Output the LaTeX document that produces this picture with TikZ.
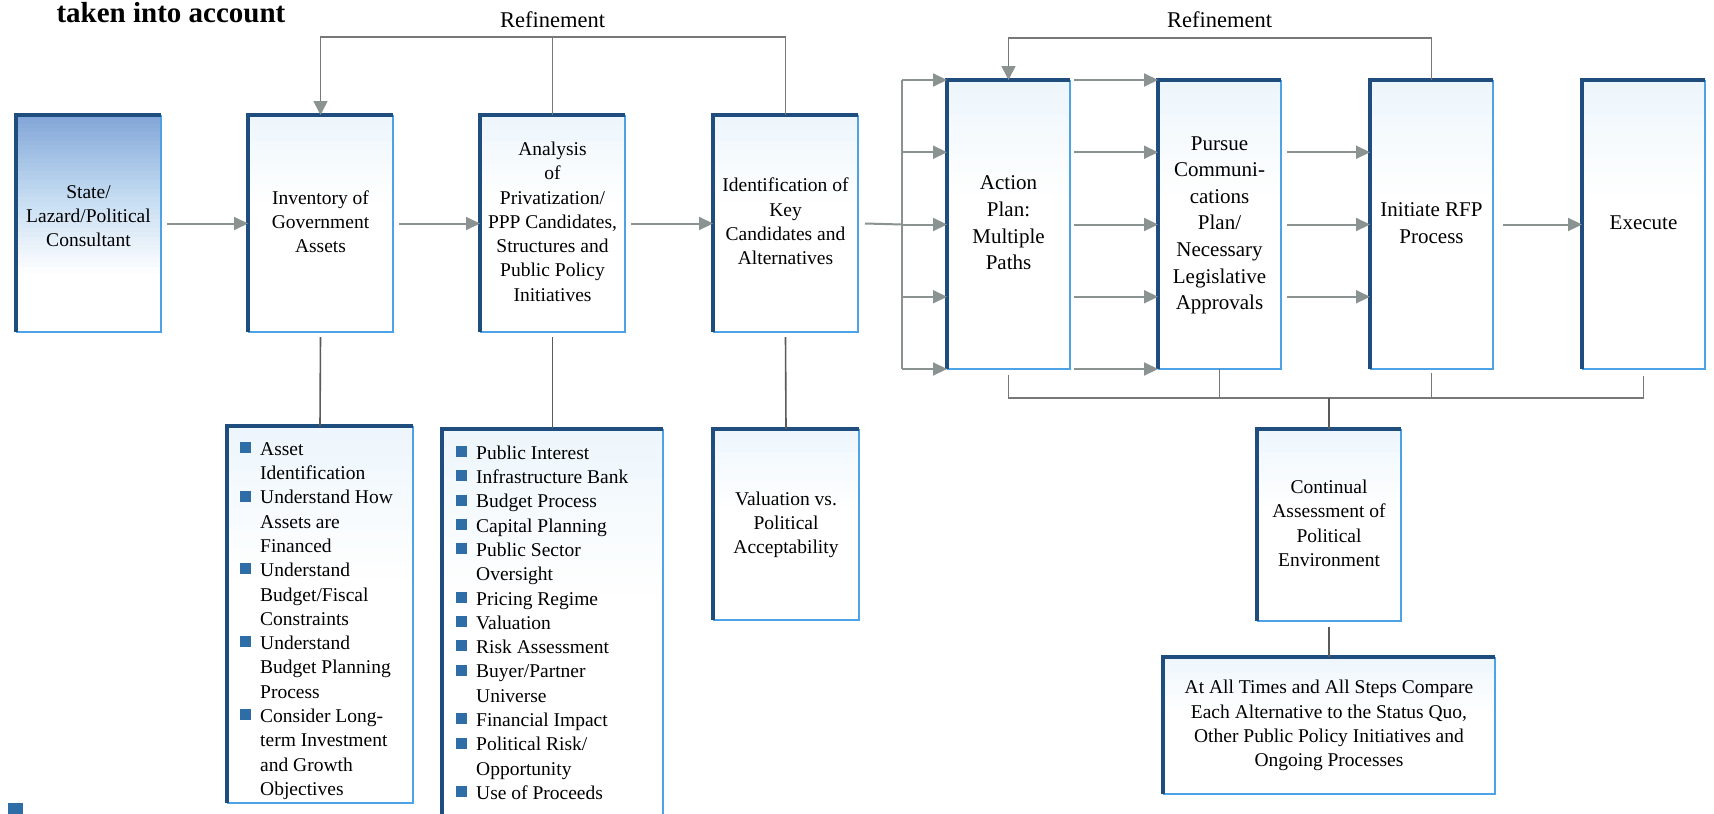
\documentclass[tikz,border=0pt]{standalone}
\usepackage{fontspec}
\setmainfont{Liberation Serif}
\newfontfamily\boxserif{Liberation Serif}
\usetikzlibrary{arrows.meta}
\usetikzlibrary{calc}
\usetikzlibrary{backgrounds}

\definecolor{navy}{HTML}{1F4D7E}
\definecolor{edgeblue}{HTML}{4DA3E6}
\definecolor{paleblue}{HTML}{EDF6FC}
\definecolor{statetop}{HTML}{82A6D8}
\definecolor{statemid}{HTML}{C2DBF1}
\definecolor{arrowgrey}{HTML}{8A9292}
\definecolor{railgrey}{HTML}{787878}
\definecolor{stemgrey}{HTML}{5A5A5A}
\definecolor{bulletblue}{HTML}{2E6DA6}

\newcommand{\boxfont}{\boxserif\fontsize{19.5}{24.3}\selectfont}
\newcommand{\bigboxfont}{\boxserif\fontsize{21}{26.6}\selectfont}
\newcommand{\bsq}{\textcolor{bulletblue}{\rule[2.3pt]{11pt}{11pt}}}
\newcommand{\steptext}[1]{\begin{tabular}{@{}c@{}}#1\end{tabular}}

\tikzset{
  stepbox/.style={rectangle, anchor=north west, outer sep=0pt, inner sep=2pt, font=\boxfont},
  widebox/.style={stepbox, minimum width=145pt, minimum height=217pt},
  tallbox/.style={stepbox, minimum width=123pt, minimum height=289pt, font=\bigboxfont},
  listtext/.style={anchor=north west, inner sep=0pt, font=\boxfont},
  reflabel/.style={anchor=base, font=\boxserif\fontsize{22.5}{27}\selectfont},
  flow/.style={draw=arrowgrey, line width=2pt, -{Triangle[length=14pt, width=13pt]}},
  busline/.style={draw=arrowgrey, line width=2pt},
  rail/.style={draw=railgrey, line width=1.6pt},
  stem/.style={draw=stemgrey, line width=1.6pt}
}

\begin{document}
\begin{tikzpicture}[x=1pt, y=-1pt]

            \useasboundingbox (0,0) rectangle (1714,814);

            \node[anchor=base west, font=\boxserif\fontsize{29}{34}\selectfont\bfseries] (title) at (53,22) {taken into account};

            % upper row
            \node[widebox] (state) at (16,115) {\steptext{State/\\Lazard/Political\\Consultant\\[12pt]}};
            \node[widebox] (inventory) at (248,115) {\steptext{Inventory of\\Government\\Assets}};
            \node[widebox] (analysis) at (480,115) {\steptext{Analysis\\of\\Privatization/\\PPP Candidates,\\Structures and\\Public Policy\\Initiatives}};
            \node[widebox] (ident) at (713,115) {\steptext{Identification of\\Key\\Candidates and\\Alternatives}};

            \node[tallbox] (action) at (947,80) {\steptext{Action\\Plan:\\Multiple\\Paths}};
            \node[tallbox] (pursue) at (1158,80) {\steptext{Pursue\\Communi-\\cations\\Plan/\\Necessary\\Legislative\\Approvals}};
            \node[tallbox] (initiate) at (1370,80) {\steptext{Initiate RFP\\Process}};
            \node[tallbox] (execute) at (1582,80) {\steptext{Execute}};

            % lower row
            \node[stepbox, minimum width=186pt, minimum height=377pt] (assetbox) at (227,426) {};
            \node[listtext] (assetlist) at ($(assetbox.north west)+(13pt,-12pt)$) {%
              \begin{tabular}{@{}l@{\hspace{9pt}}l@{}}
                \bsq & Asset\\
                     & Identification\\
                \bsq & Understand How\\
                     & Assets are\\
                     & Financed\\
                \bsq & Understand\\
                     & Budget/Fiscal\\
                     & Constraints\\
                \bsq & Understand\\
                     & Budget Planning\\
                     & Process\\
                \bsq & Consider Long-\\
                     & term Investment\\
                     & and Growth\\
                     & Objectives
              \end{tabular}};

            \node[stepbox, minimum width=221pt, minimum height=411pt] (policybox) at (442,429) {};
            \node[listtext] (policylist) at ($(policybox.north west)+(14pt,-13pt)$) {%
              \begin{tabular}{@{}l@{\hspace{9pt}}l@{}}
                \bsq & Public Interest\\
                \bsq & Infrastructure Bank\\
                \bsq & Budget Process\\
                \bsq & Capital Planning\\
                \bsq & Public Sector\\
                     & Oversight\\
                \bsq & Pricing Regime\\
                \bsq & Valuation\\
                \bsq & Risk Assessment\\
                \bsq & Buyer/Partner\\
                     & Universe\\
                \bsq & Financial Impact\\
                \bsq & Political Risk/\\
                     & Opportunity\\
                \bsq & Use of Proceeds
              \end{tabular}};

            \node[stepbox, minimum width=146pt, minimum height=191pt] (valuation) at (713,429) {\steptext{Valuation vs.\\Political\\Acceptability}};
            \node[stepbox, minimum width=144pt, minimum height=192pt] (continual) at (1257,429) {\steptext{Continual\\Assessment of\\Political\\Environment}};
            \node[stepbox, minimum width=332pt, minimum height=137pt] (compare) at (1163,657) {\steptext{At All Times and All Steps Compare\\Each Alternative to the Status Quo,\\Other Public Policy Initiatives and\\Ongoing Processes}};

            % pale fill, fading downwards
            \begin{scope}[on background layer]
              \foreach \n in {inventory,analysis,ident,action,pursue,initiate,execute,assetbox,policybox,valuation,continual,compare}{
                \foreach \i in {0,...,19}{
                  \pgfmathsetmacro\ta{\i/50}
                  \pgfmathsetmacro\tb{(\i+1.3)/50}
                  \pgfmathtruncatemacro\pc{100-5*\i}
                  \fill[paleblue!\pc!white] ($(\n.north west)!\ta!(\n.south west)$) rectangle ($(\n.north east)!\tb!(\n.south east)$);
                }
              }
              \foreach \i in {0,...,35}{
                \pgfmathsetmacro\ta{\i/50}
                \pgfmathsetmacro\tb{(\i+1.3)/50}
                \ifnum\i<18
                  \pgfmathtruncatemacro\pc{100-100*\i/18}
                  \fill[statetop!\pc!statemid] ($(state.north west)!\ta!(state.south west)$) rectangle ($(state.north east)!\tb!(state.south east)$);
                \else
                  \pgfmathtruncatemacro\pc{100-100*(\i-18)/18}
                  \fill[statemid!\pc!white] ($(state.north west)!\ta!(state.south west)$) rectangle ($(state.north east)!\tb!(state.south east)$);
                \fi
              }
            \end{scope}

            % box edges
            \foreach \n in {state,inventory,analysis,ident,action,pursue,initiate,execute,assetbox,policybox,valuation,continual,compare}{
              \draw[edgeblue, line width=1.3pt] (\n.north east) -- (\n.south east) -- (\n.south west);
              \draw[navy, line width=3.2pt] (\n.south west) -- (\n.north west) -- (\n.north east);
            }

            % main flow
            \draw[flow] ([xshift=6pt]state.east) -- (inventory.west);
            \draw[flow] ([xshift=6pt]inventory.east) -- (analysis.west);
            \draw[flow] ([xshift=6pt]analysis.east) -- (ident.west);

            \draw[busline] ([xshift=7pt]ident.east) -- ($(action.west)+(-45pt,0)$);
            \draw[busline] ($(action.north west)+(-45pt,0)$) -- ($(action.south west)+(-45pt,0)$);
            \foreach \f in {0,0.25,0.5,0.75,1}
              \draw[flow] ($(action.north west)!\f!(action.south west)+(-45pt,0)$) -- ($(action.north west)!\f!(action.south west)$);
            \foreach \f in {0,0.25,0.5,0.75,1}
              \draw[flow] ($(action.north east)!\f!(action.south east)+(4pt,0)$) -- ($(pursue.north west)!\f!(pursue.south west)$);
            \foreach \f in {0.25,0.5,0.75}
              \draw[flow] ($(pursue.north east)!\f!(pursue.south east)+(6pt,0)$) -- ($(initiate.north west)!\f!(initiate.south west)$);
            \draw[flow] ([xshift=10pt]initiate.east) -- (execute.west);

            % refinement loops
            \coordinate (railA) at (0,37);
            \coordinate (railB) at (0,38);
            \draw[rail, -{Triangle[length=14pt, width=14pt, color=arrowgrey]}] (ident.north) |- (railA -| inventory.north) -- (inventory.north);
            \draw[rail] (analysis.north) -- (analysis.north |- railA);
            \node[reflabel, yshift=10pt] (refineA) at (analysis.north |- railA) {Refinement};

            \draw[rail, -{Triangle[length=14pt, width=14pt, color=arrowgrey]}] (initiate.north) |- (railB -| action.north) -- (action.north);
            \node[reflabel, yshift=11pt] (refineB) at (pursue.north |- railB) {Refinement};

            % bracket under the right row
            \coordinate (base) at (0,398);
            \draw[rail] ([yshift=-6pt]action.south) |- (base -| execute.south) -- ([yshift=-7pt]execute.south);
            \draw[rail] (pursue.south) -- (pursue.south |- base);
            \draw[rail] ([yshift=-4pt]initiate.south) -- (initiate.south |- base);
            \draw[stem] (continual.north) -- (continual.north |- base);

            % stems to the lower boxes
            \draw[stem] ([yshift=-5pt]inventory.south) -- (assetbox.north);
            \draw[stem] ([yshift=-5pt]analysis.south) -- (policybox.north);
            \draw[stem] ([yshift=-5pt]ident.south) -- (valuation.north);
            \draw[stem] ([yshift=-6pt]continual.south) -- (compare.north);

            \fill[bulletblue] (8,803) rectangle (23,814);

\end{tikzpicture}
\end{document}
